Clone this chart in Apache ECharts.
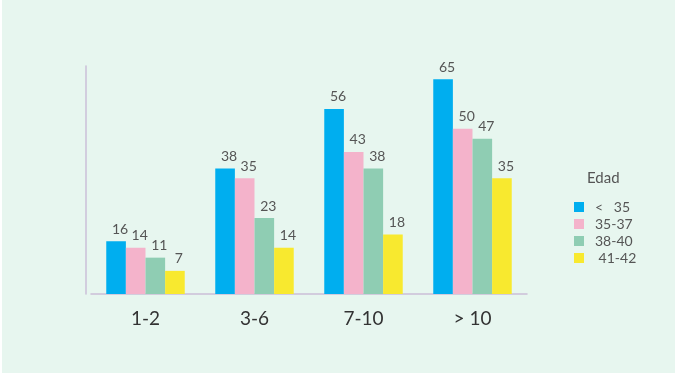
<!DOCTYPE html>
<html>
<head>
<meta charset="utf-8">
<script src="https://cdn.jsdelivr.net/npm/echarts@6/dist/echarts.min.js"></script>
<style>
html,body{margin:0;padding:0;background:#ffffff;}
#chart{position:absolute;left:2px;top:0;width:673px;height:373px;background:#e7f6ef;}
</style>
</head>
<body>
<div id="chart"></div>
<script>
const categories = ['1-2', '3-6', '7-10', '> 10'];
const seriesNames = ['<   35', '35-37', '38-40', ' 41-42'];
const lt35 = [16, 38, 56, 65];
const a35_37 = [14, 35, 43, 50];
const a38_40 = [11, 23, 38, 47];
const a41_42 = [7, 14, 18, 35];
const colors = ['#00aeef', '#f4b3cb', '#8fcdb3', '#f8e92f'];
const values = [lt35, a35_37, a38_40, a41_42];

const chart = echarts.init(document.getElementById('chart'));
const fontFam = 'Lato, "Open Sans", sans-serif';
chart.setOption({
  animation: false,
  backgroundColor: 'transparent',
  title: {
    text: 'Edad',
    left: 580,
    top: 166,
    textStyle: { fontSize: 15, fontWeight: 'normal', color: '#555', fontFamily: fontFam }
  },
  legend: {
    orient: 'vertical',
    left: 567,
    top: 195,
    itemWidth: 10,
    itemHeight: 10,
    itemGap: 3,
    icon: 'rect',
    textStyle: { fontSize: 14, color: '#555', fontFamily: fontFam, padding: [0, 0, 0, 6] },
    data: seriesNames
  },
  grid: { left: 89, top: 66, width: 436, bottom: 79 },
  xAxis: {
    type: 'category',
    data: categories,
    axisLine: { lineStyle: { color: '#cbbfd8', width: 1.5 } },
    axisTick: { show: false },
    axisLabel: { fontSize: 19, color: '#333', margin: 15, fontFamily: fontFam }
  },
  yAxis: {
    type: 'value',
    min: 0,
    max: 69,
    offset: 5,
    axisLine: { show: true, lineStyle: { color: '#cbbfd8', width: 1.5 } },
    axisTick: { show: false },
    axisLabel: { show: false },
    splitLine: { show: false }
  },
  series: values.map((v, i) => ({
    name: seriesNames[i],
    type: 'bar',
    data: v,
    barGap: '0%',
    barCategoryGap: '28%',
    itemStyle: { color: colors[i] },
    label: { show: true, position: 'top', distance: 5, offset: [4, 0], fontSize: 14, color: '#555', fontFamily: fontFam }
  }))
});
</script>
</body>
</html>
